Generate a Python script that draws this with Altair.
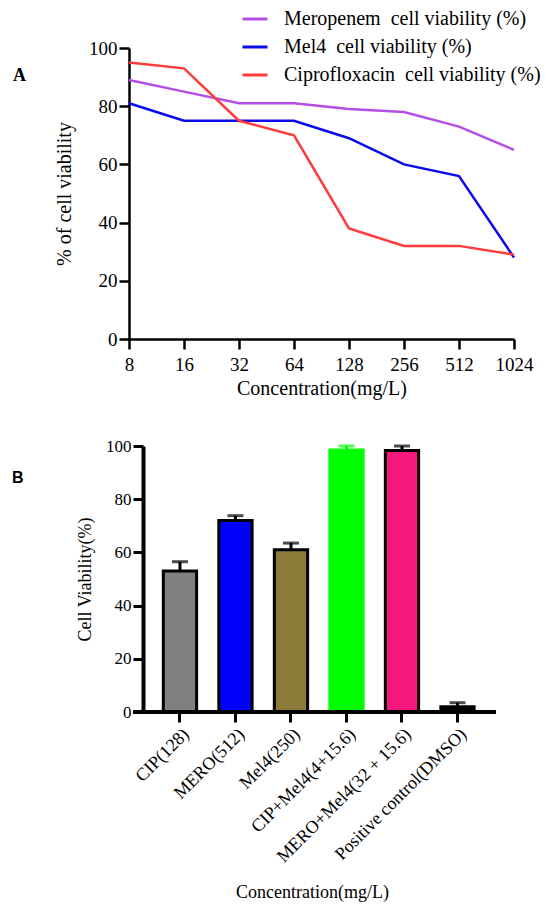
import altair as alt
import pandas as pd

# ---------------- Panel A data ----------------
concentrations = ["8", "16", "32", "64", "128", "256", "512", "1024"]
meropenem = [89, 85, 81, 81, 79, 78, 73, 65]
mel4 = [81, 75, 75, 75, 69, 60, 56, 28]
ciprofloxacin = [95, 93, 75, 70, 38, 32, 32, 29]
series_names = [
    "Meropenem\u00a0 cell viability (%)",
    "Mel4\u00a0 cell viability (%)",
    "Ciprofloxacin\u00a0 cell viability (%)",
]
series_colors = ["#B44FE6", "#0A0AEE", "#FF3B3B"]
y_ticks = [0, 20, 40, 60, 80, 100]

# ---------------- Panel B data ----------------
groups = [
    "CIP(128)",
    "MERO(512)",
    "Mel4(250)",
    "CIP+Mel4(4+15.6)",
    "MERO+Mel4(32 + 15.6)",
    "Positive control(DMSO)",
]
viability = [53, 72, 61, 98.5, 98.3, 2]
errors = [3.5, 1.8, 2.5, 1.5, 1.7, 1.5]
bar_colors = ["#808080", "#0000FF", "#8B7A38", "#00FF00", "#F5167E", "#000000"]

SERIF = "Liberation Serif"
SANS = "Liberation Sans"

rows = []
for name, vals in zip(series_names, [meropenem, mel4, ciprofloxacin]):
    for c, v in zip(concentrations, vals):
        rows.append({"conc": c, "value": v, "series": name})
dfA = pd.DataFrame(rows)

lines = alt.Chart(dfA).mark_line(strokeWidth=2.5).encode(
    x=alt.X(
        "conc:O",
        sort=concentrations,
        scale=alt.Scale(type="point", padding=0),
        axis=alt.Axis(
            title="Concentration(mg/L)",
            labelAngle=0,
            labelFont=SERIF,
            labelFontSize=19,
            labelPadding=6,
            titleFont=SERIF,
            titleFontSize=20,
            titleFontWeight="normal",
            titlePadding=4,
            tickSize=10,
            tickWidth=2.5,
            domainWidth=2.5,
        ),
    ),
    y=alt.Y(
        "value:Q",
        scale=alt.Scale(domain=[0, 100]),
        axis=alt.Axis(
            values=y_ticks,
            title="% of cell viability",
            grid=False,
            labelFont=SERIF,
            labelFontSize=19,
            labelPadding=2,
            titleFont=SERIF,
            titleFontSize=20,
            titleFontWeight="normal",
            titlePadding=14,
            tickSize=10,
            tickWidth=2.5,
            domainWidth=2.5,
        ),
    ),
    color=alt.Color(
        "series:N",
        scale=alt.Scale(domain=series_names, range=series_colors),
        legend=alt.Legend(
            title=None,
            orient="none",
            legendX=112,
            legendY=-43,
            symbolType="stroke",
            symbolSize=625,
            symbolStrokeWidth=3,
            labelFont=SERIF,
            labelFontSize=20,
            labelColor="black",
            labelOffset=15,
            labelLimit=400,
            rowPadding=4,
            padding=0,
        ),
    ),
)

labA = alt.Chart(pd.DataFrame({"t": ["A"]})).mark_text(
    font=SERIF, fontWeight="bold", fontSize=18, align="left", baseline="middle", color="black"
).encode(text="t:N", x=alt.value(-116), y=alt.value(27.5))

chartA = alt.layer(lines, labA).properties(width=385, height=291)

# ---------------- Panel B ----------------
dfB = pd.DataFrame({"group": groups, "v": viability, "err": errors})

xB = alt.X(
    "group:N",
    sort=groups,
    scale=alt.Scale(paddingInner=0.4, paddingOuter=0.497, align=0.622),
    axis=alt.Axis(
        title="Concentration(mg/L)",
        labelAngle=-45,
        domain=False,
        bandPosition=0.5,
        tickSize=10,
        tickWidth=3,
        labelFont=SERIF,
        labelFontSize=18,
        labelPadding=3,
        labelLimit=300,
        titleFont=SERIF,
        titleFontSize=18,
        titleFontWeight="normal",
        titlePadding=18,
    ),
)
yB_axis = alt.Axis(
    values=y_ticks,
    title="Cell Viability(%)",
    grid=False,
    offset=-14,
    labelFont=SERIF,
    labelFontSize=17,
    labelPadding=2,
    titleFont=SERIF,
    titleFontSize=18,
    titleFontWeight="normal",
    titlePadding=11,
    tickSize=10,
    tickWidth=3,
    domainWidth=4,
)

green_test = alt.datum.group == "CIP+Mel4(4+15.6)"

bars = alt.Chart(dfB).mark_bar(strokeWidth=3).encode(
    x=xB,
    y=alt.Y("v:Q", scale=alt.Scale(domain=[0, 100]), axis=yB_axis),
    color=alt.Color("group:N", scale=alt.Scale(domain=groups, range=bar_colors), legend=None),
    stroke=alt.condition(green_test, alt.value("#00FF00"), alt.value("black")),
)

err_rule = alt.Chart(dfB).transform_calculate(top="datum.v + datum.err").mark_rule(strokeWidth=3).encode(
    x=alt.X("group:N", sort=groups),
    y=alt.Y("v:Q"),
    y2=alt.Y2("top:Q"),
    color=alt.condition(green_test, alt.value("#00FF00"), alt.value("black")),
)

err_cap = alt.Chart(dfB).transform_calculate(top="datum.v + datum.err").mark_tick(thickness=3, size=16).encode(
    x=alt.X("group:N", sort=groups),
    y=alt.Y("top:Q"),
    color=alt.condition(green_test, alt.value("#00FF00"), alt.value("black")),
)

xline = alt.Chart(pd.DataFrame({"z": [0]})).mark_rule(strokeWidth=4, color="black").encode(
    y=alt.Y("z:Q"), x=alt.value(4), x2=alt.value(367)
)

labB = alt.Chart(pd.DataFrame({"t": ["B"]})).mark_text(
    font=SANS, fontWeight="bold", fontSize=16, align="left", baseline="middle", color="black"
).encode(text="t:N", x=alt.value(-117), y=alt.value(32))

chartB = alt.layer(bars, err_rule, err_cap, xline, labB).properties(width=366, height=266)

chart = alt.vconcat(chartA, chartB, spacing=39).resolve_scale(color="independent").properties(
    padding={"left": 4, "top": -3, "right": 0, "bottom": 0}
).configure_view(stroke=None).configure_axis(
    domainColor="black", tickColor="black", labelColor="black", titleColor="black"
)

chart.save("out.html", embed_options={"renderer": "svg", "actions": False})
